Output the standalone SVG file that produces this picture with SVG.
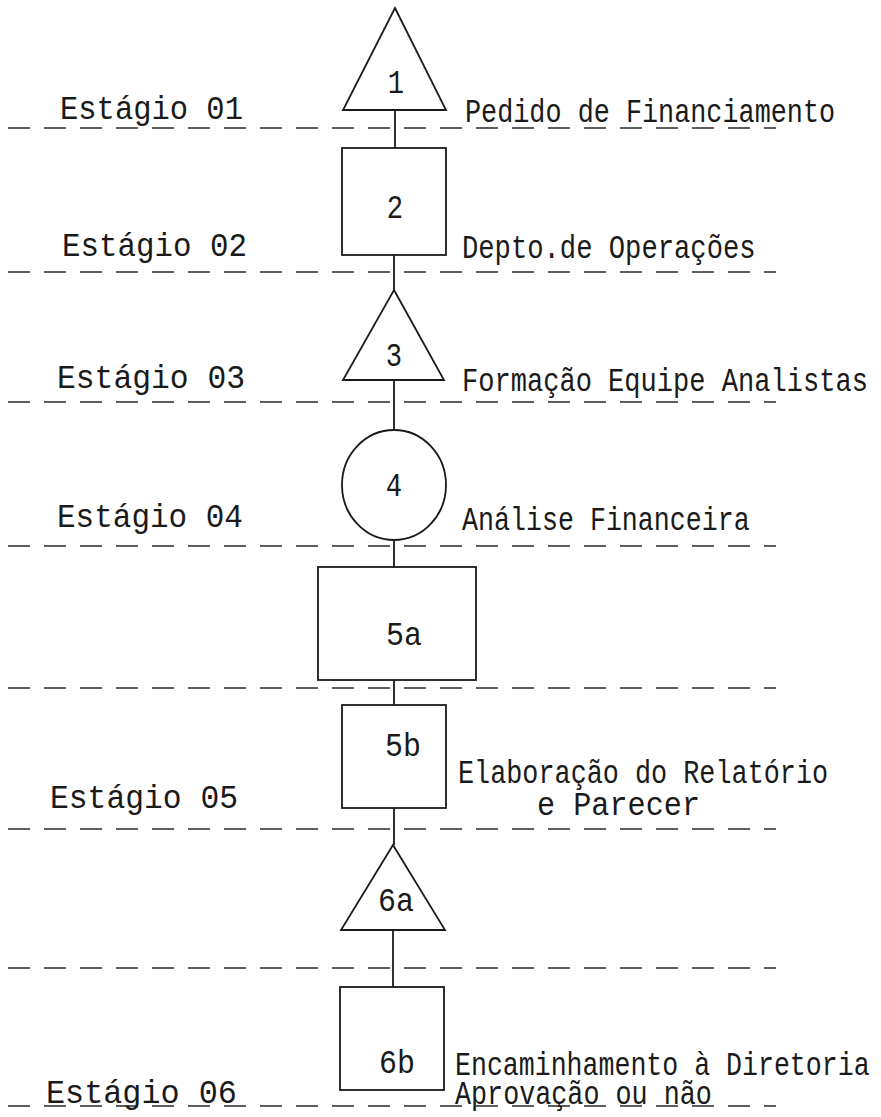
<svg xmlns="http://www.w3.org/2000/svg" width="881" height="1117" viewBox="0 0 881 1117">
<style>
.s{fill:none;stroke:#1a1a1a;stroke-width:1.8}
.d{fill:none;stroke:#2a2a2a;stroke-width:1.6;stroke-dasharray:22 14}
text{font-family:"Liberation Mono","DejaVu Sans Mono",monospace;font-size:34px;fill:#1a1a1a}
.c{text-anchor:middle}
</style>
<rect width="881" height="1117" fill="#fff"/>
<g id="stage-lines">
<line class="d" x1="8" y1="128" x2="776" y2="128"/>
<line class="d" x1="8" y1="272" x2="776" y2="272"/>
<line class="d" x1="8" y1="402" x2="776" y2="402"/>
<line class="d" x1="8" y1="546" x2="776" y2="546"/>
<line class="d" x1="8" y1="688" x2="776" y2="688"/>
<line class="d" x1="8" y1="829" x2="776" y2="829"/>
<line class="d" x1="8" y1="968" x2="776" y2="968"/>
<line class="d" x1="8" y1="1106" x2="776" y2="1106"/>
</g>
<g id="connectors">
<line class="s" x1="395" y1="110" x2="395" y2="148"/>
<line class="s" x1="394" y1="255" x2="394" y2="290"/>
<line class="s" x1="394" y1="380" x2="394" y2="430"/>
<line class="s" x1="394" y1="540" x2="394" y2="567"/>
<line class="s" x1="394" y1="680" x2="394" y2="705"/>
<line class="s" x1="394" y1="808" x2="394" y2="845"/>
<line class="s" x1="393" y1="930" x2="393" y2="987"/>
</g>
<g id="n1"><path class="s" d="M395 8 L446 110 L343 110 Z"/><text class="c" transform="translate(396,93) scale(0.8,1)">1</text></g>
<g id="n2"><rect class="s" x="342" y="148" width="104" height="107"/><text class="c" transform="translate(395,218) scale(0.8,1)">2</text></g>
<g id="n3"><path class="s" d="M394 290 L444 380 L343 380 Z"/><text class="c" transform="translate(394,366) scale(0.8,1)">3</text></g>
<g id="n4"><ellipse class="s" cx="394" cy="485" rx="52" ry="55"/><text class="c" transform="translate(394,496) scale(0.8,1)">4</text></g>
<g id="n5a"><rect class="s" x="318" y="567" width="158" height="113"/><text class="c" transform="translate(404,645) scale(0.88,1)">5a</text></g>
<g id="n5b"><rect class="s" x="342" y="705" width="104" height="103"/><text class="c" transform="translate(403,756) scale(0.88,1)">5b</text></g>
<g id="n6a"><path class="s" d="M393 845 L445 930 L341 930 Z"/><text class="c" transform="translate(396,911) scale(0.88,1)">6a</text></g>
<g id="n6b"><rect class="s" x="340" y="987" width="104" height="103"/><text class="c" transform="translate(397,1073) scale(0.88,1)">6b</text></g>
<g id="labels">
<text transform="translate(60,119) scale(0.897,1)">Estágio 01</text>
<text transform="translate(465,122) scale(0.789,1)">Pedido de Financiamento</text>
<text transform="translate(62,256) scale(0.907,1)">Estágio 02</text>
<text transform="translate(462,258) scale(0.80,1)">Depto.de Operações</text>
<text transform="translate(57,388) scale(0.922,1)">Estágio 03</text>
<text transform="translate(462,391) scale(0.796,1)">Formação Equipe Analistas</text>
<text transform="translate(57,527) scale(0.912,1)">Estágio 04</text>
<text transform="translate(462,530) scale(0.784,1)">Análise Financeira</text>
<text transform="translate(458,783) scale(0.789,1)">Elaboração do Relatório</text>
<text transform="translate(537,815) scale(0.888,1)">e Parecer</text>
<text transform="translate(50,808) scale(0.922,1)">Estágio 05</text>
<text transform="translate(455,1075) scale(0.782,1)">Encaminhamento à Diretoria</text>
<text transform="translate(455,1104) scale(0.787,1)">Aprovação ou não</text>
<text transform="translate(46,1103) scale(0.936,1)">Estágio 06</text>
</g>
</svg>
